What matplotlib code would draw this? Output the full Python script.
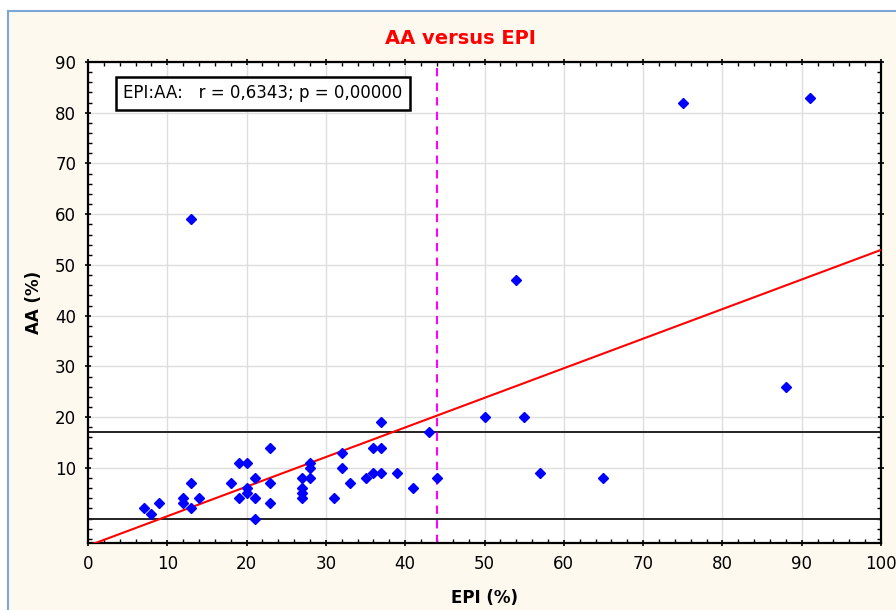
import numpy as np
import matplotlib
matplotlib.use('Agg')
from matplotlib import pyplot as plt
from matplotlib.patches import Rectangle
from matplotlib.ticker import MultipleLocator

plt.rcParams['font.family'] = ['DejaVu Sans']

# EPI (%) and AA (%)
epi = [7, 8, 9, 12, 12, 13, 13, 13, 14, 18, 19, 19, 20, 20, 20, 21, 21, 21,
       23, 23, 23, 27, 27, 27, 27, 28, 28, 28, 31, 32, 32, 33, 35, 36, 36,
       37, 37, 37, 39, 41, 43, 44, 50, 54, 55, 57, 65, 75, 88, 91]
aa = [2, 1, 3, 4, 3, 7, 2, 59, 4, 7, 11, 4, 11, 6, 5, 8, 4, 0,
      14, 7, 3, 8, 6, 5, 4, 11, 10, 8, 4, 13, 10, 7, 8, 14, 9,
      14, 9, 19, 9, 6, 17, 8, 20, 47, 20, 9, 8, 82, 26, 83]

hlines = [0, 17]
vline = 44
xticks = list(range(0, 101, 10))
yticks = list(range(10, 91, 10))
stat_text = 'EPI:AA:   r = 0,6343; p = 0,00000'

epi = np.asarray(epi)
aa = np.asarray(aa)
slope, intercept = np.polyfit(epi, aa, 1)

fig = plt.figure(figsize=(8.96, 6.10), dpi=100)
fig.patch.set_facecolor('white')
fig.patches.append(Rectangle((8/896, -0.05), 1.1, (610-11)/610 + 0.05,
                             transform=fig.transFigure, facecolor='#fdf9ef',
                             edgecolor='#7aa6d8', lw=1.5, zorder=-10))

ax = fig.add_axes([88/896, 1-543/610, 793/896, 481/610])
ax.set_facecolor('white')
ax.set_xlim(0, 100)
ax.set_ylim(-4.8, 90)

ax.grid(True, color='#dedede', lw=1, zorder=0)
ax.set_axisbelow(True)

for h in hlines:
    ax.axhline(h, color='#222222', lw=1.4, zorder=2)
ax.axvline(vline, color='#ff00ff', lw=1.5, ls=(0, (4, 3)), zorder=2)

xx = np.array([0, 100])
ax.plot(xx, intercept + slope*xx, color='red', lw=1.5, zorder=3)

ax.plot(epi, aa, 'D', color='#0000ff', markersize=5.5, mec='#0000ff', zorder=4)

ax.set_xticks(xticks)
ax.set_yticks(yticks)
ax.xaxis.set_minor_locator(MultipleLocator(2))
ax.yaxis.set_minor_locator(MultipleLocator(2))
ax.tick_params(which='major', direction='inout', length=5, width=1.2,
               labelsize=12, top=True, right=True, pad=6)
ax.tick_params(which='minor', direction='in', length=3, width=1,
               top=True, right=True)
for s in ax.spines.values():
    s.set_linewidth(1.6)
    s.set_color('black')

ax.set_xlabel('EPI (%)', fontsize=12, fontweight='bold', labelpad=12)
ax.set_ylabel('AA (%)', fontsize=12, fontweight='bold', labelpad=9)

ax.text((123-88)/793, (543-93)/481, stat_text, transform=ax.transAxes,
        fontsize=12, ha='left', va='center', zorder=6,
        bbox=dict(boxstyle='square,pad=0.45', facecolor='white',
                  edgecolor='black', lw=1.8))

fig.text(460/896, 1-38/610, 'AA versus EPI', color='red', fontsize=14,
         fontweight='bold', ha='center', va='center')

fig.savefig('out.png', dpi=100, facecolor=fig.get_facecolor())
